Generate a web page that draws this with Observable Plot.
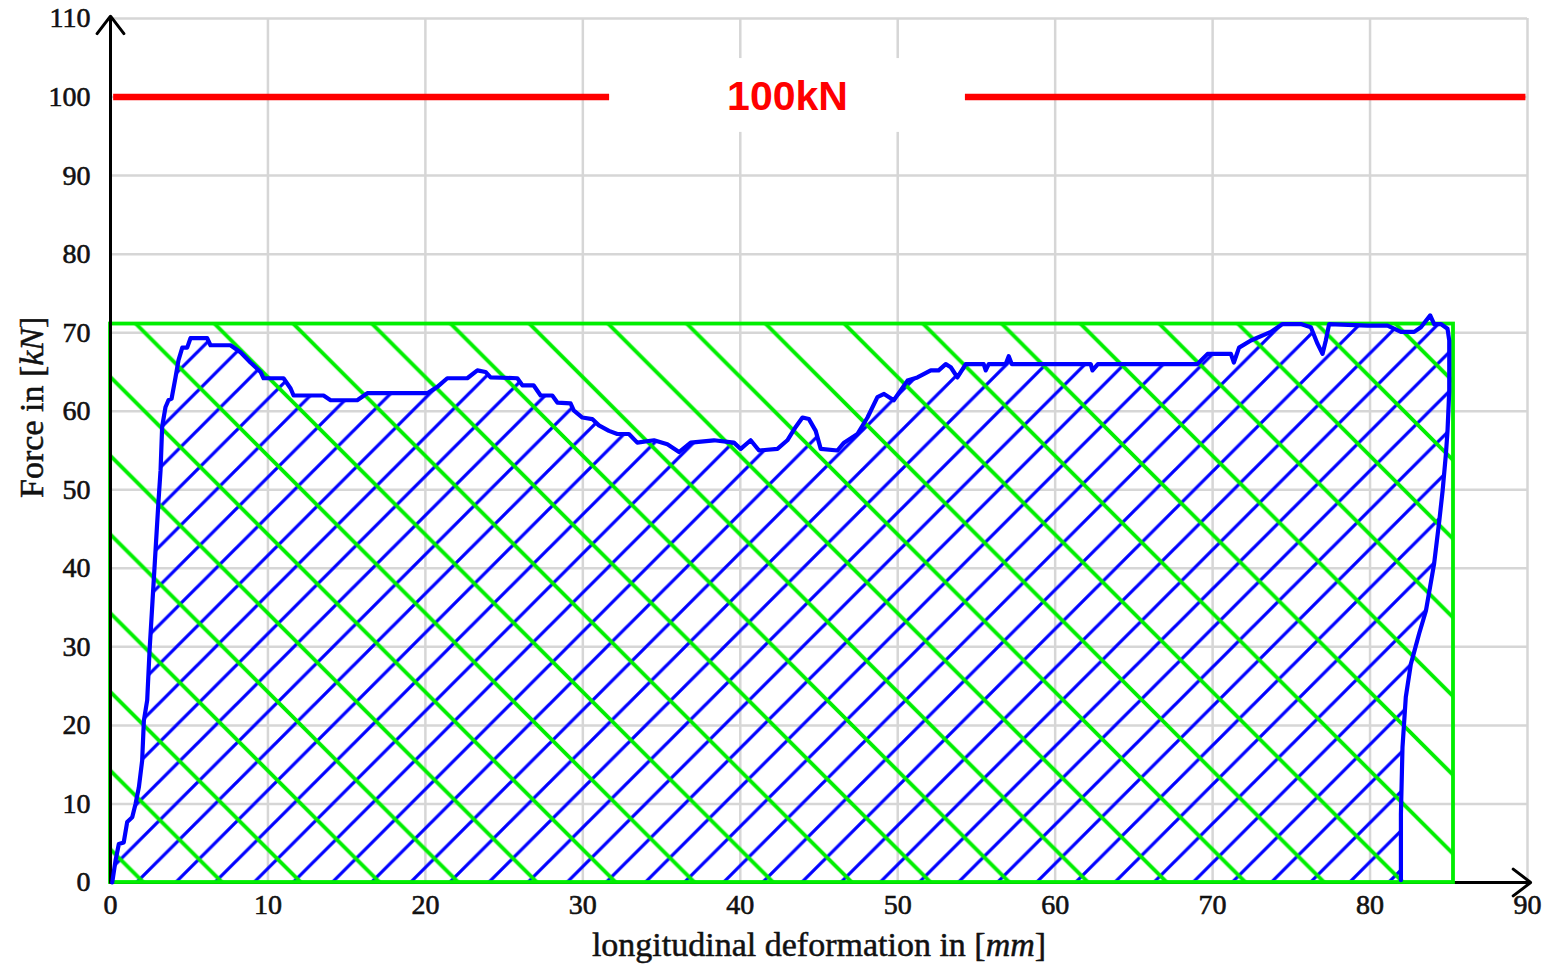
<!DOCTYPE html>
<html>
<head>
<meta charset="utf-8">
<script src="https://cdn.jsdelivr.net/npm/d3@7"></script>
<script src="https://cdn.jsdelivr.net/npm/@observablehq/plot@0.6"></script>
<style>
html, body { margin: 0; padding: 0; background: #fff; }
#chart { position: absolute; left: 0; top: 0; }
</style>
</head>
<body>
<div id="chart"></div>
<script>
// ---- data ----
const deformation = [0.11,0.32,0.53,0.84,1.06,1.38,1.59,1.80,2.01,2.12,
  2.33,2.48,2.67,2.86,3.05,3.18,3.28,3.49,3.68,3.88,
  4.13,4.32,4.56,4.87,5.08,6.14,6.35,7.62,8.26,8.89,
  9.53,9.72,10.99,11.44,11.63,13.53,13.98,15.67,16.31,20.12,
  20.76,21.39,22.66,23.30,23.82,24.14,25.84,26.16,26.87,27.32,
  28.06,28.38,29.22,29.42,29.97,30.60,31.02,31.66,32.19,32.93,
  33.46,34.52,35.37,36.11,36.85,38.33,39.60,40.03,40.66,41.19,
  42.36,42.99,43.52,43.95,44.36,44.79,45.11,46.17,46.59,47.44,
  48.08,48.71,49.13,49.75,50.62,51.25,52.10,52.60,53.05,53.37,
  53.79,54.32,55.46,55.59,55.78,56.86,57.05,57.24,62.26,62.37,
  62.71,69.04,69.68,71.16,71.35,71.68,72.43,73.70,74.44,75.60,
  76.24,76.66,76.98,77.19,77.40,79.84,81.11,81.96,82.80,83.23,
  83.82,84.07,84.50,84.92,85.03,85.03,84.92,84.82,84.61,84.40,
  84.07,83.55,83.12,82.59,82.27,82.06,81.96,81.96];
const force = [0.0,2.8,4.9,5.1,7.7,8.3,10.0,12.1,15.5,20.6,
  23.2,29.5,35.9,42.3,48.6,52.5,58.0,60.5,61.4,61.6,
  64.3,66.5,68.1,68.1,69.3,69.3,68.4,68.4,67.5,66.2,
  65.0,64.2,64.2,62.9,62.0,62.0,61.4,61.4,62.3,62.3,
  63.1,64.2,64.2,65.2,65.0,64.3,64.2,63.3,63.3,62.0,
  62.0,61.1,61.0,60.1,59.2,59.0,58.2,57.5,57.1,57.1,
  56.0,56.3,55.8,54.8,56.0,56.3,56.0,55.2,56.3,55.0,
  55.2,56.3,58.0,59.2,59.0,57.5,55.2,55.0,56.0,57.1,
  59.2,61.8,62.2,61.4,63.9,64.3,65.2,65.2,66.0,65.6,
  64.3,66.0,66.0,65.2,66.0,66.0,67.0,66.0,66.0,65.2,
  66.0,66.0,67.3,67.3,66.2,68.1,69.0,70.1,71.1,71.1,
  70.7,68.6,67.3,69.0,71.1,70.9,70.9,70.1,70.1,70.7,
  72.2,71.1,71.1,70.5,69.0,62.6,57.5,54.6,49.9,46.1,
  40.6,34.6,31.7,27.8,23.6,17.2,8.7,0.3];

const xTicks = [0,10,20,30,40,50,60,70,80,90];
const yTicks = [0,10,20,30,40,50,60,70,80,90,100,110];

const limitForce = 100;          // red 100 kN line
const limitLabel = "100kN";
const limitStarts = [0.2, 54.3];
const limitEnds = [31.7, 89.9];

const envelopeForce = [71.1];        // green rectangle height
const envelopeDeformation = [85.3];  // green rectangle width

const xLabelText = "longitudinal deformation in";
const xLabelUnit = "mm";
const yLabelText = "Force in";
const yLabelUnit = "kN";

// ---- tables built from the arrays ----
const curve = deformation.map((d, i) => ({x: d, y: force[i]}));
const limitSegments = limitStarts.map((s, i) => ({x1: s, x2: limitEnds[i], y: limitForce}));
const envelope = envelopeDeformation.map((d, i) => ({x1: 0, x2: d, y1: 0, y2: envelopeForce[i]}));

const GREEN = "#00ee00";
const BLUE = "#0000ff";

const plot = Plot.plot({
  width: 1554,
  height: 966,
  marginLeft: 110,
  marginRight: 27,
  marginTop: 18,
  marginBottom: 84,
  x: {domain: [0, 90]},
  y: {domain: [0, 110]},
  style: {fontFamily: "'Liberation Serif', 'DejaVu Serif', serif", fontSize: "28px", color: "#111", background: "#fff", overflow: "visible"},
  marks: [
    Plot.gridX(xTicks, {stroke: "#d6d6d6", strokeOpacity: 1, strokeWidth: 2.5}),
    Plot.gridY(yTicks, {stroke: "#d6d6d6", strokeOpacity: 1, strokeWidth: 2.5}),
    Plot.axisX(xTicks, {tickSize: 0, tickPadding: 12, label: null, tickFormat: d => String(d)}),
    Plot.axisY(yTicks, {tickSize: 0, tickPadding: 20, label: null, tickFormat: d => String(d)}),
    // white box behind the 100kN label
    Plot.rect([{x1: limitEnds[0], x2: limitStarts[1], y1: 95.5, y2: 104.9}], {x1: "x1", x2: "x2", y1: "y1", y2: "y2", fill: "#fff"}),
    Plot.ruleY(limitSegments, {y: "y", x1: "x1", x2: "x2", stroke: "#ff0000", strokeWidth: 6.5}),
    Plot.text([limitLabel], {x: 43, y: limitForce, text: d => d, fill: "#ff0000", fontSize: 41, fontWeight: "bold", fontFamily: "'Liberation Sans', Arial, sans-serif"}),
    // blue hatched area under the curve
    Plot.line(curve, {x: "x", y: "y", fill: "url(#blueHatch)", stroke: "none"}),
    // green hatched envelope
    Plot.rect(envelope, {x1: "x1", x2: "x2", y1: "y1", y2: "y2", fill: "url(#greenHatch)"}),
    Plot.arrow([{x1: 0, y1: 0, x2: 90.2, y2: 0}], {x1: "x1", y1: "y1", x2: "x2", y2: "y2", stroke: "#000", strokeWidth: 3, headLength: 11, headAngle: 75}),
    Plot.rect(envelope, {x1: "x1", x2: "x2", y1: "y1", y2: "y2", fill: "none", stroke: GREEN, strokeWidth: 3.8}),
    Plot.arrow([{x1: 0, y1: 0, x2: 0, y2: 110.3}], {x1: "x1", y1: "y1", x2: "x2", y2: "y2", stroke: "#000", strokeWidth: 3, headLength: 11, headAngle: 75}),
    // blue curve
    Plot.line(curve, {x: "x", y: "y", stroke: BLUE, strokeWidth: 4.2, strokeLinejoin: "round", strokeLinecap: "round"}),
    // axis titles
    Plot.text([xLabelText], {x: 45, y: 0, dy: 63, text: d => d, fontSize: 34, fill: "#111", stroke: "#111", strokeWidth: 0.5}),
    Plot.text([yLabelText], {x: 0, y: 60.5, dx: -78, rotate: -90, text: d => d, fontSize: 34, fill: "#111", stroke: "#111", strokeWidth: 0.5})
  ]
});

// ---- hatch patterns (fill styles), aligned via the plot's own scales ----
const sx = plot.scale("x");
const sy = plot.scale("y");
const svg = d3.select(plot);
const defs = svg.insert("defs", ":first-child");
const mod = (a, m) => ((a % m) + m) % m;

// green "\" hatch: 5 mm horizontal spacing, passing through (2.1, 0)
{
  const s = sx.apply(5) - sx.apply(0);
  const px = sx.apply(2.1), py = sy.apply(0);
  const w = 3.8;
  defs.append("pattern")
    .attr("id", "greenHatch").attr("patternUnits", "userSpaceOnUse")
    .attr("width", s).attr("height", s).attr("x", 0).attr("y", mod(py - px, s))
    .append("path")
    .attr("d", `M-3,-3L${s+3},${s+3}M${-w},${s-w}L${w},${s+w}M${s-w},${-w}L${s+w},${w}`)
    .attr("stroke", GREEN).attr("stroke-width", w).attr("fill", "none");
}
// blue "/" hatch: 2.485 mm horizontal spacing, passing through (1.65, 0)
{
  const s = sx.apply(2.485) - sx.apply(0);
  const px = sx.apply(1.65), py = sy.apply(0);
  const w = 3.2;
  defs.append("pattern")
    .attr("id", "blueHatch").attr("patternUnits", "userSpaceOnUse")
    .attr("width", s).attr("height", s).attr("x", mod(px + py, s)).attr("y", 0)
    .append("path")
    .attr("d", `M-3,${s+3}L${s+3},-3M${-w},${w}L${w},${-w}M${s-w},${s+w}L${s+w},${s-w}`)
    .attr("stroke", BLUE).attr("stroke-width", w).attr("fill", "none");
}

// slightly heavier tick labels, like the reference
svg.selectAll('g[aria-label="x-axis tick label"] text, g[aria-label="y-axis tick label"] text')
  .attr("stroke", "#111").attr("stroke-width", 0.6);

// italic units inside brackets for the axis titles
function addUnit(text, unit) {
  svg.selectAll("text")
    .filter(function () { return this.textContent.trim() === text; })
    .each(function () {
      const t = d3.select(this);
      t.text(null);
      t.append("tspan").text(text + " [");
      t.append("tspan").attr("font-style", "italic").text(unit);
      t.append("tspan").text("]");
    });
}
addUnit(xLabelText, xLabelUnit);
addUnit(yLabelText, yLabelUnit);

document.getElementById("chart").appendChild(plot);
</script>
</body>
</html>
